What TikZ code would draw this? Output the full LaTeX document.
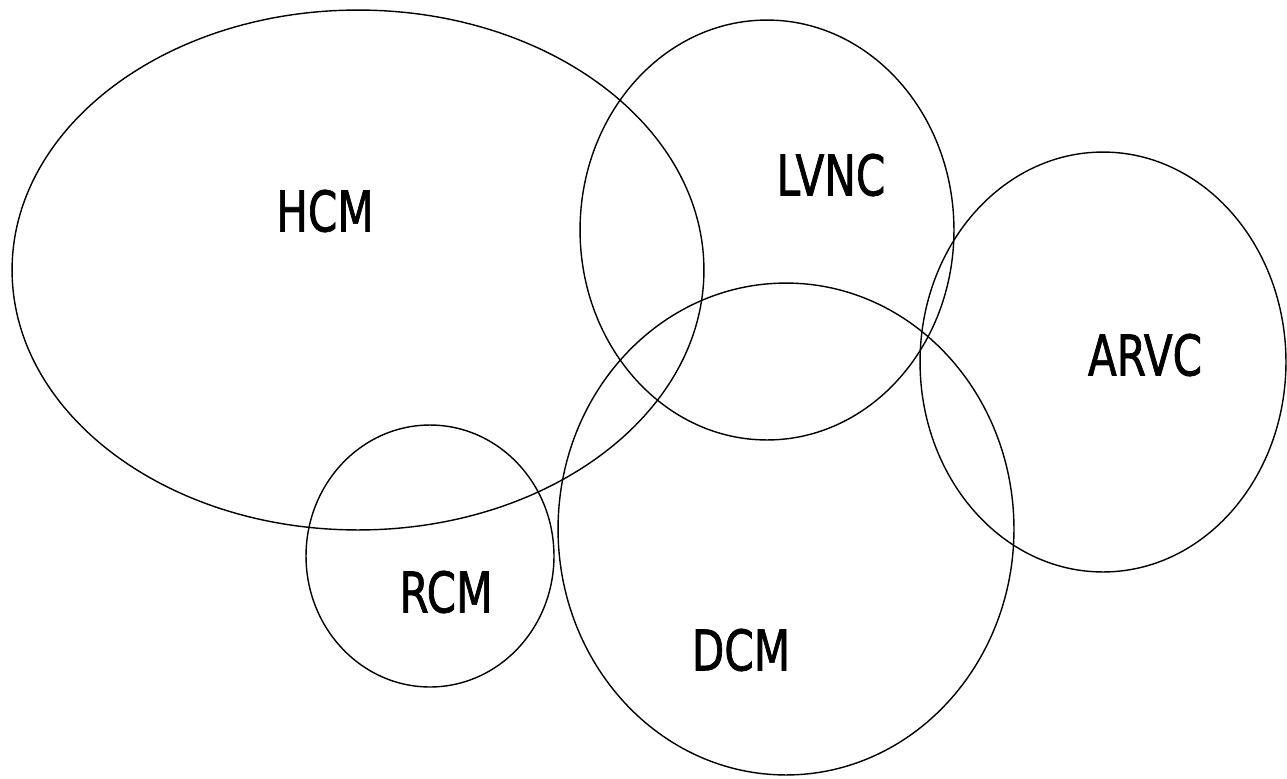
\documentclass[tikz,border=0pt]{standalone}
\usepackage{fontspec}
\usetikzlibrary{shapes.geometric}
\newfontfamily\labfont[FakeStretch=0.75,FakeBold=1.2]{DejaVu Sans}
\begin{document}
\begin{tikzpicture}[x=0.02cm,y=-0.02cm,
  set/.style={draw=black, line width=0.8pt, ellipse, inner sep=0pt},
  lab/.style={font=\labfont\fontsize{32}{38}\selectfont, inner sep=0pt}]
\useasboundingbox (0,0) rectangle (1287,778);
\node[set, minimum width=13.84cm, minimum height=10.4cm] (hcm) at (358,270) {};
\node[set, minimum width=7.48cm, minimum height=8.4cm] (lvnc) at (767,230) {};
\node[set, minimum width=7.32cm, minimum height=8.4cm] (arvc) at (1103,362) {};
\node[set, minimum width=9.12cm, minimum height=9.84cm] (dcm) at (786,529) {};
\node[set, minimum width=4.96cm, minimum height=5.24cm] (rcm) at (430,556) {};
\node[lab] (thcm) at (325,211) {HCM};
\node[lab] (tlvnc) at (831,175) {LVNC};
\node[lab] (tarvc) at (1145,355) {ARVC};
\node[lab] (trcm) at (446,592) {RCM};
\node[lab] (tdcm) at (741,650) {DCM};
\end{tikzpicture}
\end{document}
